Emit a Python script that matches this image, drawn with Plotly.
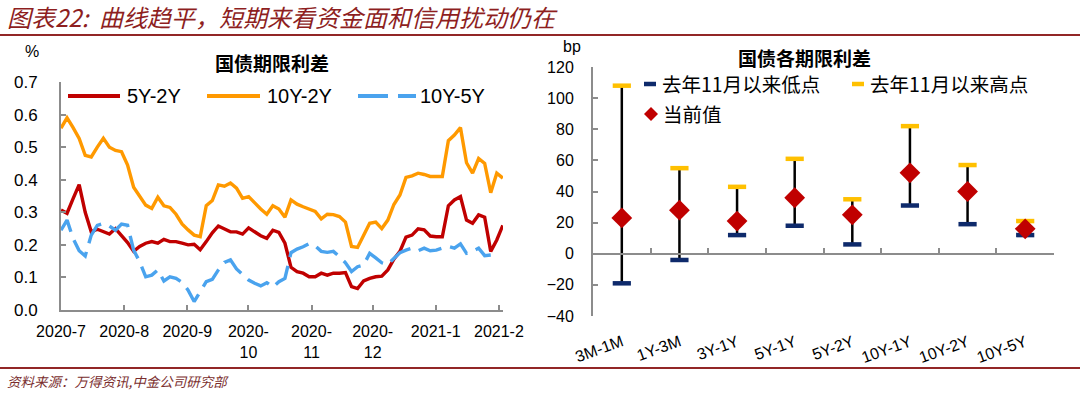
import plotly.graph_objects as go
import pandas as pd

W, H = 1080, 394

# ---------------- Left chart data (国债期限利差, %) ----------------
dates = pd.date_range("2020-07-01", "2021-02-02 22:00", periods=74)

s_5y2y = [0.307, 0.297, 0.342, 0.385, 0.300, 0.240, 0.248, 0.240, 0.233, 0.250,
          0.230, 0.207, 0.180, 0.195, 0.205, 0.210, 0.205, 0.217, 0.210, 0.210,
          0.205, 0.200, 0.202, 0.185, 0.210, 0.237, 0.258, 0.249, 0.240, 0.240,
          0.233, 0.252, 0.240, 0.228, 0.220, 0.245, 0.238, 0.205, 0.131, 0.118,
          0.113, 0.102, 0.102, 0.113, 0.107, 0.113, 0.113, 0.115, 0.072, 0.066,
          0.089, 0.097, 0.102, 0.104, 0.123, 0.156, 0.180, 0.224, 0.230, 0.249,
          0.246, 0.227, 0.225, 0.225, 0.320, 0.338, 0.348, 0.276, 0.266, 0.292,
          0.285, 0.180, 0.215, 0.260]

s_10y2y = [0.558, 0.590, 0.560, 0.527, 0.475, 0.470, 0.500, 0.527, 0.500, 0.490,
           0.486, 0.445, 0.377, 0.348, 0.322, 0.312, 0.346, 0.320, 0.315, 0.294,
           0.264, 0.246, 0.230, 0.225, 0.320, 0.336, 0.384, 0.380, 0.390, 0.374,
           0.343, 0.348, 0.328, 0.310, 0.294, 0.320, 0.310, 0.285, 0.338, 0.325,
           0.317, 0.310, 0.303, 0.280, 0.294, 0.293, 0.287, 0.270, 0.195, 0.192,
           0.230, 0.266, 0.270, 0.250, 0.276, 0.324, 0.353, 0.407, 0.412, 0.420,
           0.416, 0.410, 0.410, 0.410, 0.520, 0.537, 0.560, 0.452, 0.420, 0.465,
           0.450, 0.360, 0.420, 0.405]

s_10y5y = [0.245, 0.276, 0.220, 0.182, 0.166, 0.230, 0.260, 0.266, 0.258, 0.245,
           0.264, 0.260, 0.184, 0.148, 0.102, 0.107, 0.123, 0.089, 0.102, 0.097,
           0.085, 0.061, 0.026, 0.056, 0.087, 0.094, 0.123, 0.146, 0.154, 0.126,
           0.110, 0.092, 0.082, 0.074, 0.084, 0.070, 0.087, 0.097, 0.176, 0.187,
           0.194, 0.204, 0.197, 0.180, 0.177, 0.180, 0.164, 0.145, 0.118, 0.133,
           0.138, 0.174, 0.160, 0.145, 0.140, 0.157, 0.176, 0.184, 0.190, 0.182,
           0.190, 0.182, 0.184, 0.190, 0.195, 0.190, 0.203, 0.174, 0.180, 0.190,
           0.167, 0.169, None, None]

month_ticks = ["2020-07-01", "2020-08-01", "2020-09-01", "2020-10-01",
               "2020-11-01", "2020-12-01", "2021-01-01", "2021-02-01"]
month_labels = ["2020-7", "2020-8", "2020-9", "2020-<br>10", "2020-<br>11",
                "2020-<br>12", "2021-1", "2021-2"]

# ---------------- Right chart data (国债各期限利差, bp) ----------------
terms = ["3M-1M", "1Y-3M", "3Y-1Y", "5Y-1Y", "5Y-2Y", "10Y-1Y", "10Y-2Y", "10Y-5Y"]
low_since_nov = [-19, -4, 12, 18, 6, 31, 19, 12]
high_since_nov = [108, 55, 43, 61, 35, 82, 57, 21]
current = [23, 28, 21, 36, 25, 52, 40, 16]

# ---------------- styles ----------------
RED = "#C00000"
ORANGE = "#FF9900"
BLUE = "#4AA3EE"
NAVY = "#0E2A6B"
GOLD = "#FFC000"
NUM_FONT = "Liberation Sans, Arial, sans-serif"
CJK_FONT = "Noto Sans CJK SC, sans-serif"
AXIS_GREY = "#8c8c8c"
BLUE_DASH = "24px,9px"


def fx(px):
    return px / W


def fy(py):
    return 1 - py / H


fig = go.Figure()

# Left chart lines
fig.add_trace(go.Scatter(x=dates, y=s_5y2y, name="5Y-2Y", mode="lines",
                         line=dict(color=RED, width=3.4), xaxis="x", yaxis="y"))
fig.add_trace(go.Scatter(x=dates, y=s_10y2y, name="10Y-2Y", mode="lines",
                         line=dict(color=ORANGE, width=3.4), xaxis="x", yaxis="y"))
fig.add_trace(go.Scatter(x=dates, y=s_10y5y, name="10Y-5Y", mode="lines",
                         line=dict(color=BLUE, width=3.4, dash=BLUE_DASH),
                         xaxis="x", yaxis="y"))

# Right chart: range bars (black vertical lines from low to high)
err_plus = [h - c for h, c in zip(high_since_nov, current)]
err_minus = [c - l for c, l in zip(current, low_since_nov)]
fig.add_trace(go.Scatter(x=terms, y=current, mode="markers",
                         marker=dict(size=1, opacity=0),
                         error_y=dict(type="data", array=err_plus, arrayminus=err_minus,
                                      symmetric=False, color="#000000", thickness=2.5, width=0),
                         hoverinfo="skip", xaxis="x2", yaxis="y2"))
fig.add_trace(go.Scatter(x=terms, y=low_since_nov, mode="markers", name="去年11月以来低点",
                         marker=dict(symbol="line-ew", size=13, line=dict(color=NAVY, width=4.5)),
                         xaxis="x2", yaxis="y2"))
fig.add_trace(go.Scatter(x=terms, y=high_since_nov, mode="markers", name="去年11月以来高点",
                         marker=dict(symbol="line-ew", size=13, line=dict(color=GOLD, width=4.5)),
                         xaxis="x2", yaxis="y2"))
fig.add_trace(go.Scatter(x=terms, y=current, mode="markers", name="当前值",
                         marker=dict(symbol="diamond", size=16, color=RED),
                         xaxis="x2", yaxis="y2"))
# helper trace so that the zero-line axis (x3) is drawn
fig.add_trace(go.Scatter(x=[None], y=[None], mode="markers", hoverinfo="skip",
                         xaxis="x3", yaxis="y2"))

y2_dom = [fy(316), fy(67)]
zero_pos = y2_dom[0] + (0 - (-40)) / 160 * (y2_dom[1] - y2_dom[0])

common_axis = dict(showgrid=False, zeroline=False, automargin=False)

fig.update_layout(
    template="none",
    width=W, height=H,
    margin=dict(l=0, r=0, t=0, b=0, pad=0, autoexpand=False),
    paper_bgcolor="white", plot_bgcolor="white",
    font=dict(family=NUM_FONT, size=16, color="#000000"),
    showlegend=False,
    xaxis=dict(domain=[fx(61), fx(503)], anchor="y", type="date",
               range=["2020-07-01", "2021-02-03"],
               tickvals=month_ticks, ticktext=month_labels,
               ticks="inside", ticklen=5, tickwidth=1.5, tickcolor=AXIS_GREY,
               showline=True, linecolor=AXIS_GREY, linewidth=2,
               tickfont=dict(family=NUM_FONT, size=16, color="#000"),
               ticklabelstandoff=6, **common_axis),
    yaxis=dict(domain=[fy(310), fy(82)], anchor="x", range=[0, 0.7],
               dtick=0.1, tickformat=".1f",
               ticks="inside", ticklen=5, tickwidth=1.5, tickcolor=AXIS_GREY,
               showline=True, linecolor=AXIS_GREY, linewidth=2,
               tickfont=dict(family=NUM_FONT, size=17, color="#000"),
               ticklabelstandoff=18, **common_axis),
    xaxis2=dict(domain=[fx(593), fx(1054)], anchor="y2", type="category",
                range=[-0.5, 7.5], showline=False, ticks="", tickangle=-20,
                tickfont=dict(family=NUM_FONT, size=16, color="#000"),
                ticklabelstandoff=13, **common_axis),
    xaxis3=dict(overlaying="x2", anchor="free", position=zero_pos,
                type="linear", range=[-0.5, 7.5],
                tickvals=[0.5, 1.5, 2.5, 3.5, 4.5, 5.5, 6.5],
                showticklabels=False, ticks="inside", ticklen=5, tickwidth=1.5,
                tickcolor=AXIS_GREY, showline=True, linecolor=AXIS_GREY, linewidth=2,
                **common_axis),
    yaxis2=dict(domain=y2_dom, anchor="x2", range=[-40, 120], dtick=20,
                ticks="inside", ticklen=5, tickwidth=1.5, tickcolor=AXIS_GREY,
                showline=True, linecolor=AXIS_GREY, linewidth=2,
                tickfont=dict(family=NUM_FONT, size=16, color="#000"),
                ticklabelstandoff=14, **common_axis),
)

# ---------------- texts ----------------
def txt(text, x, y, size, family, color="#000", xanchor="left"):
    return dict(text=text, x=fx(x), y=fy(y), xref="paper", yref="paper",
                xanchor=xanchor, yanchor="middle", showarrow=False,
                font=dict(family=family, size=size, color=color))


annotations = [
    txt("<i>图表22:  曲线趋平，短期来看资金面和信用扰动仍在</i>", 5, 17, 24, CJK_FONT, "#8E1F1F"),
    txt("<i>资料来源：万得资讯,中金公司研究部</i>", 5, 381, 13.5, CJK_FONT, "#7A2E2E"),
    txt("%", 32, 52, 16, NUM_FONT, xanchor="center"),
    txt("bp", 572, 47, 16, NUM_FONT, xanchor="center"),
    txt("<b>国债期限利差</b>", 272, 63, 19, CJK_FONT, xanchor="center"),
    txt("<b>国债各期限利差</b>", 804, 57, 19, CJK_FONT, xanchor="center"),
    # left legend
    txt("5Y-2Y", 125, 96, 20, NUM_FONT),
    txt("10Y-2Y", 265, 96, 20, NUM_FONT),
    txt("10Y-5Y", 418, 96, 20, NUM_FONT),
    # right legend
    txt("去年11月以来低点", 660, 84, 19.5, CJK_FONT),
    txt("去年11月以来高点", 868, 84, 19.5, CJK_FONT),
    txt("当前值", 661, 114, 19.5, CJK_FONT),
]
fig.update_layout(annotations=annotations)


def hline(x0, x1, y, color, width, dash="solid"):
    return dict(type="line", xref="paper", yref="paper", x0=fx(x0), x1=fx(x1),
                y0=fy(y), y1=fy(y), line=dict(color=color, width=width, dash=dash))


shapes = [
    hline(0, W, 35, "#922626", 2),
    hline(0, W, 368, "#922626", 2),
    # left legend samples
    hline(68, 120, 96, RED, 4),
    hline(207, 260, 96, ORANGE, 4),
    hline(358, 416, 96, BLUE, 4, "30px,10px"),
    # right legend samples
    hline(644, 656, 84, NAVY, 4.5),
    hline(852, 864, 84, GOLD, 4.5),
    dict(type="path", xref="paper", yref="paper",
         path=f"M{fx(644)},{fy(114)} L{fx(651)},{fy(107)} L{fx(658)},{fy(114)} L{fx(651)},{fy(121)} Z",
         fillcolor=RED, line=dict(width=0)),
]
fig.update_layout(shapes=shapes)

fig.write_html("out.html", config={"displayModeBar": False},
               post_script="document.body.style.margin='0';")
